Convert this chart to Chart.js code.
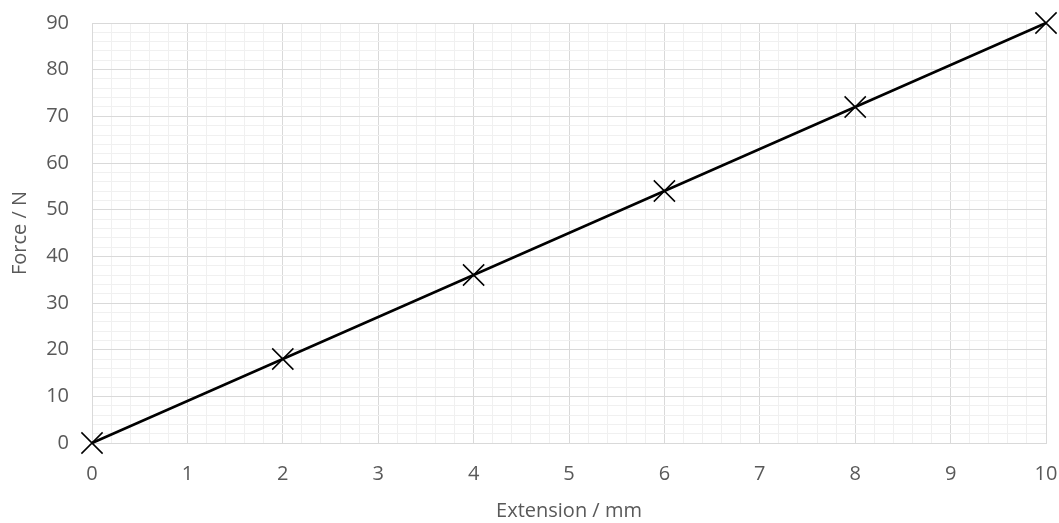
<!DOCTYPE html>
<html>
<head>
<meta charset="utf-8">
<script src="https://cdn.jsdelivr.net/npm/chart.js@4/dist/chart.umd.min.js"></script>
<style>
  html, body { margin: 0; padding: 0; background: #fff; }
  #wrap { width: 1059px; height: 523px; }
</style>
</head>
<body>
<div id="wrap"><canvas id="chart" width="1059" height="523"></canvas></div>
<script>
const extension = [0, 2, 4, 6, 8, 10];
const force = [0, 18, 36, 54, 72, 90];
const xTitle = "Extension / mm";
const yTitle = "Force / N";

const isMajor = function (v, step) {
  const r = v / step;
  return Math.abs(r - Math.round(r)) < 1e-6;
};

const drawChart = function () {
  const ctx = document.querySelector("#chart");
  const tickColor = "#595959";
  const font = { family: "'Open Sans', sans-serif", size: 20 };

  new Chart(ctx, {
    type: "scatter",
    data: {
      datasets: [
        {
          data: extension.map((x, i) => ({ x: x, y: force[i] })),
          showLine: true,
          clip: false,
          borderColor: "#000",
          backgroundColor: "#000",
          borderWidth: 2.5,
          pointStyle: "crossRot",
          pointRadius: 15,
          pointBorderWidth: 1.5,
          pointBorderColor: "#000",
        },
      ],
    },
    options: {
      responsive: false,
      animation: false,
      layout: { autoPadding: false, padding: { top: 23, right: 13, left: 0, bottom: 0 } },
      plugins: { legend: { display: false }, tooltip: { enabled: false } },
      scales: {
        x: {
          type: "linear",
          min: 0,
          max: 10,
          afterFit: (s) => {
            s.height = 80;
            s.paddingLeft = 0;
            s.paddingRight = 0;
          },
          border: { color: "#d9d9d9", width: 1 },
          grid: {
            drawTicks: false,
            color: (c) => (isMajor(c.tick.value, 1) ? "#d9d9d9" : "#f0f0f0"),
            lineWidth: 1,
          },
          ticks: {
            stepSize: 0.2,
            autoSkip: false,
            maxRotation: 0,
            padding: 19,
            color: tickColor,
            font: font,
            callback: (v) => (isMajor(v, 1) ? String(Math.round(v)) : ""),
          },
          title: {
            display: true,
            text: xTitle,
            color: tickColor,
            font: font,
            padding: { top: 4, bottom: 0 },
          },
        },
        y: {
          type: "linear",
          min: 0,
          max: 90,
          afterFit: (s) => {
            s.width = 92;
            s.paddingTop = 0;
            s.paddingBottom = 0;
          },
          border: { color: "#d9d9d9", width: 1 },
          grid: {
            drawTicks: false,
            color: (c) => (isMajor(c.tick.value, 10) ? "#d9d9d9" : "#f0f0f0"),
            lineWidth: 1,
          },
          ticks: {
            stepSize: 2,
            autoSkip: false,
            padding: 23,
            color: tickColor,
            font: font,
            callback: (v) => (isMajor(v, 10) ? String(Math.round(v)) : ""),
          },
          title: {
            display: true,
            text: yTitle,
            color: tickColor,
            font: font,
            padding: { top: 8, bottom: 0 },
          },
        },
      },
    },
  });
};

drawChart();
</script>
</body>
</html>
